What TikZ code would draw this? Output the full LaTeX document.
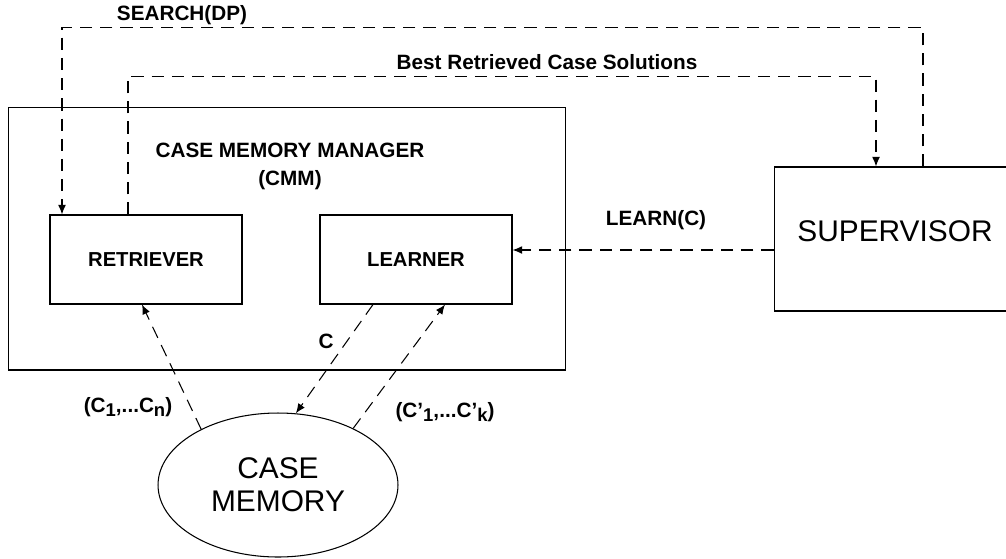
\documentclass[tikz,border=0pt]{standalone}
\usepackage{fontspec}
\setmainfont{Liberation Sans}
\usetikzlibrary{calc}
\usetikzlibrary{shapes}
\usetikzlibrary{arrows.meta}
\newcommand{\idx}[1]{\raisebox{-.4ex}{\fontsize{10.5}{11}\selectfont #1}}

\begin{document}
\begin{tikzpicture}[>={Latex[length=5.5pt, width=4.5pt]}, x=0.02cm, y=-0.02cm,
    box/.style={draw=black, line width=.6pt, font=\fontsize{11.5}{13}\selectfont\bfseries},
    big/.style={font=\fontsize{17}{19}\selectfont, align=center},
    lbl/.style={font=\fontsize{11.8}{14}\selectfont\bfseries},
    flow/.style={->, dashed, line width=.6pt, dash pattern=on 7pt off 4.5pt}]
    \useasboundingbox (0,0) rectangle (1006,558);
    \node[box, minimum width=11.16cm, minimum height=5.26cm](cmm) at (287,238.5) {};
    \node[lbl, align=center, font=\fontsize{11.8}{16}\selectfont\bfseries](cmmtitle) at (290,166) {CASE MEMORY MANAGER\\(CMM)};
    \node[box, minimum width=3.84cm, minimum height=1.78cm](ret) at (146,259.5) {RETRIEVER};
    \node[box, minimum width=3.84cm, minimum height=1.78cm](lrn) at (416,259.5) {LEARNER};
    \node[box, big, minimum width=4.84cm, minimum height=2.88cm, text depth=9pt](sup) at (895,239) {SUPERVISOR};
    \node[ellipse, draw=black, line width=.6pt, big, minimum width=4.8cm, minimum height=2.88cm](mem) at (278,485) {CASE\\MEMORY};
    % links to the supervisor
    \draw[flow] ($(sup.north)+(28,0)$) -- ++(0,-139) coordinate(s1) -| ($(ret.north)+(-84,0)$);
    \draw[flow] ($(ret.north)+(-18,0)$) -- ++(0,-138) coordinate(b1) -| ($(sup.north)+(-19,0)$);
    \node[lbl](search) at (182,15) {SEARCH(DP)};
    \node[lbl](best) at (547,62) {Best Retrieved Case Solutions};
    \draw[flow] (sup.west |- 0,250) -- (lrn.east |- 0,250) node[lbl, pos=.45, above=8pt]{LEARN(C)};
    % links to the case memory
    \draw[flow] (mem.144) -- ($(ret.south)+(-4,0)$);
    \draw[flow] ($(lrn.south)+(-43,0)$) -- (mem.76);
    \draw[flow] (mem.37) -- ($(lrn.south)+(29,0)$);
    \node[lbl](cn) at (128,407) {(C\idx{1},...C\idx{n})};
    \node[lbl](c) at (326,341) {C};
    \node[lbl](ck) at (445,412) {(C’\idx{1},...C’\idx{k})};
\end{tikzpicture}
\end{document}
